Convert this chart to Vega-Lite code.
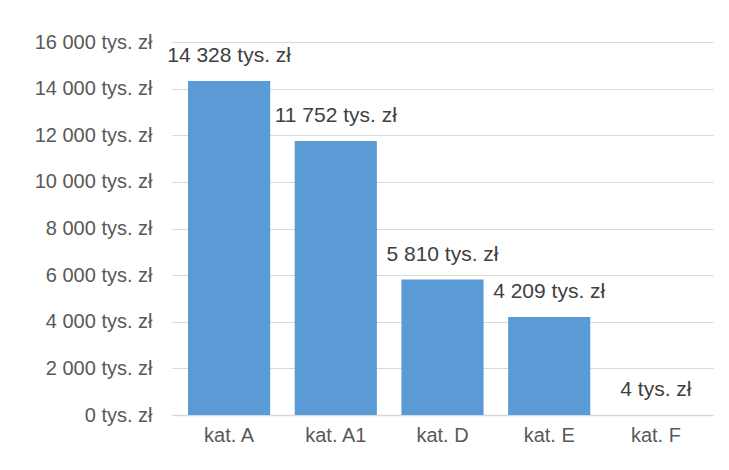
{
  "$schema": "https://vega.github.io/schema/vega-lite/v6.json",
  "autosize": "none",
  "width": 541,
  "height": 373,
  "padding": {"left": 172, "top": 42, "right": 16, "bottom": 55},
  "background": "white",
  "data": {"values": [
    {"kategoria": "kat. A", "wartosc": 14328},
    {"kategoria": "kat. A1", "wartosc": 11752},
    {"kategoria": "kat. D", "wartosc": 5810},
    {"kategoria": "kat. E", "wartosc": 4209},
    {"kategoria": "kat. F", "wartosc": 4}
  ]},
  "transform": [
    {"calculate": "replace(format(datum.wartosc, ','), ',', ' ') + ' tys. zł'", "as": "etykieta"}
  ],
  "encoding": {
    "x": {
      "field": "kategoria", "type": "nominal", "sort": null,
      "scale": {"paddingInner": 0.23, "paddingOuter": 0.15},
      "axis": {"title": null, "labelAngle": 0, "ticks": false, "domainColor": "#d9d9d9", "domainWidth": 1.5,
               "labelFont": "Liberation Sans", "labelFontSize": 20, "labelColor": "#595959", "labelPadding": 20,
               "labelBaseline": "middle", "labelOverlap": false}
    },
    "y": {
      "field": "wartosc", "type": "quantitative",
      "scale": {"domain": [0, 16000]},
      "axis": {"title": null, "values": [0,2000,4000,6000,8000,10000,12000,14000,16000],
               "domain": false, "ticks": false, "gridColor": "#d9d9d9", "gridWidth": 1.2,
               "labelOverlap": false,
               "labelExpr": "replace(format(datum.value, ','), ',', ' ') + ' tys. zł'",
               "labelFont": "Liberation Sans", "labelFontSize": 20, "labelColor": "#595959", "labelPadding": 20}
    }
  },
  "layer": [
    {"mark": {"type": "bar", "color": "#5b9bd5"}},
    {"mark": {"type": "text", "baseline": "middle", "dy": -25, "font": "Liberation Sans", "fontSize": 21, "color": "#404040"},
     "encoding": {"text": {"field": "etykieta"}}}
  ],
  "config": {"view": {"stroke": null}}
}
